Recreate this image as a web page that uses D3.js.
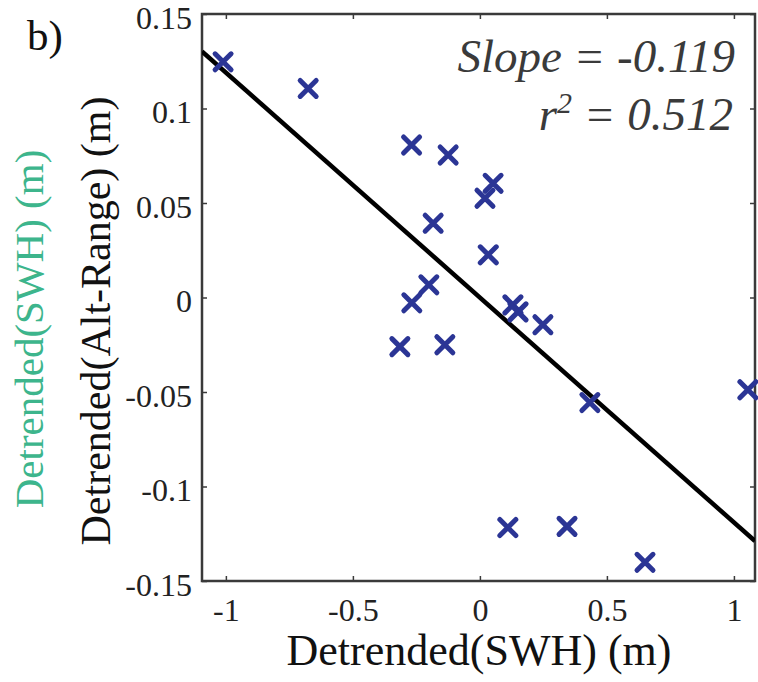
<!DOCTYPE html>
<html lang="en">
<head>
  <meta charset="UTF-8">
  <title>Detrended Alt-Range vs SWH</title>
  <script src="https://d3js.org/d3.v7.min.js"></script>
  <style>
    body { margin: 0; background: #fff; }
    svg { display: block; font-family: "Liberation Serif", "Times New Roman", serif; }
  </style>
</head>
<body>
  <svg id="chart" width="758" height="682"></svg>
  <script>
    // Points (detrended SWH, detrended Alt-Range), metres
    const swh = [-1.011, -0.676, -0.269, -0.125, 0.052, 0.020, -0.184, 0.033, -0.201, -0.268,
                 -0.315, -0.138, 0.130, 0.150, 0.248, 0.433, 1.055, 0.110, 0.343, 0.650];
    const altRange = [0.1247, 0.1106, 0.0807, 0.0754, 0.0604, 0.0525, 0.0393, 0.0226, 0.0067, -0.0028,
                      -0.026, -0.025, -0.0039, -0.0076, -0.0144, -0.0556, -0.0488, -0.1217, -0.1211, -0.1401];

    // Fit shown on the plot
    const slope = -0.119;
    const intercept = 0.0;
    const r2 = 0.512;

    const xTicks = [-1, -0.5, 0, 0.5, 1];
    const yTicks = [-0.15, -0.1, -0.05, 0, 0.05, 0.1, 0.15];
    const xDomain = [-1.094, 1.083];
    const yDomain = [-0.15, 0.15];

    const plot = { left: 202, right: 755, top: 14, bottom: 581 };
    const svg = d3.select("#chart");

    const x = d3.scaleLinear().domain(xDomain).range([plot.left, plot.right]);
    const y = d3.scaleLinear().domain(yDomain).range([plot.bottom, plot.top]);

    const axisColor = "#3a3a3a";
    const tickFont = 32;

    // clip for the fitted line
    svg.append("clipPath").attr("id", "plotClip")
      .append("rect")
      .attr("x", plot.left).attr("y", plot.top)
      .attr("width", plot.right - plot.left).attr("height", plot.bottom - plot.top);

    // ---- axes (ticks pointing inwards) ----
    function styleAxis(g) {
      g.select(".domain").remove();
      g.selectAll(".tick line").attr("stroke", axisColor).attr("stroke-width", 1.5);
      g.selectAll(".tick text")
        .attr("fill", "#222")
        .attr("font-size", tickFont)
        .attr("font-family", "'Liberation Serif', 'Times New Roman', serif");
    }

    svg.append("g")
      .attr("transform", `translate(0,${plot.bottom})`)
      .call(d3.axisBottom(x).tickValues(xTicks).tickSize(-5).tickPadding(17)
        .tickFormat(d => String(d)))
      .call(styleAxis);

    svg.append("g")
      .attr("transform", `translate(${plot.left},0)`)
      .call(d3.axisLeft(y).tickValues(yTicks).tickSize(-5).tickPadding(10)
        .tickFormat(d => String(+d.toFixed(2))))
      .call(styleAxis)
      .selectAll(".tick text").attr("dy", "0.45em");

    svg.append("g")
      .attr("transform", `translate(0,${plot.top})`)
      .call(d3.axisTop(x).tickValues(xTicks).tickSize(-5).tickFormat(""))
      .call(styleAxis);

    svg.append("g")
      .attr("transform", `translate(${plot.right},0)`)
      .call(d3.axisRight(y).tickValues(yTicks).tickSize(-5).tickFormat(""))
      .call(styleAxis);

    // box
    svg.append("rect")
      .attr("x", plot.left).attr("y", plot.top)
      .attr("width", plot.right - plot.left).attr("height", plot.bottom - plot.top)
      .attr("fill", "none")
      .attr("stroke", axisColor)
      .attr("stroke-width", 2.5);

    // ---- fitted line ----
    const fitLine = d3.line().x(d => x(d)).y(d => y(slope * d + intercept));
    svg.append("path")
      .datum(xDomain)
      .attr("clip-path", "url(#plotClip)")
      .attr("fill", "none")
      .attr("stroke", "#000")
      .attr("stroke-width", 4.5)
      .attr("d", fitLine);

    // ---- x markers ----
    const s = 8;
    svg.selectAll(".pt")
      .data(swh.map((v, i) => [v, altRange[i]]))
      .enter()
      .append("path")
      .attr("class", "pt")
      .attr("transform", d => `translate(${x(d[0])},${y(d[1])})`)
      .attr("d", `M${-s},${-s}L${s},${s}M${-s},${s}L${s},${-s}`)
      .attr("stroke", "#2b3595")
      .attr("stroke-width", 5)
      .attr("stroke-linecap", "round")
      .attr("fill", "none");

    // ---- annotations ----
    svg.append("text")
      .attr("x", 735).attr("y", 72)
      .attr("text-anchor", "end")
      .attr("font-size", 47)
      .attr("font-style", "italic")
      .attr("fill", "#3a3a3a")
      .text("Slope = " + slope);

    const r2Text = svg.append("text")
      .attr("x", 733).attr("y", 130)
      .attr("text-anchor", "end")
      .attr("font-size", 47)
      .attr("font-style", "italic")
      .attr("fill", "#3a3a3a");
    r2Text.append("tspan").text("r");
    r2Text.append("tspan").attr("font-size", 30).attr("dy", -17).text("2");
    r2Text.append("tspan").attr("dy", 17).text(" = " + r2.toFixed(3));

    // panel label
    svg.append("text")
      .attr("x", 27).attr("y", 50)
      .attr("font-size", 43)
      .attr("fill", "#111")
      .text("b)");

    // axis titles
    svg.append("text")
      .attr("x", 479).attr("y", 665)
      .attr("text-anchor", "middle")
      .attr("font-size", 44)
      .attr("fill", "#111")
      .text("Detrended(SWH) (m)");

    svg.append("text")
      .attr("transform", "translate(110,321) rotate(-90)")
      .attr("text-anchor", "middle")
      .attr("font-size", 42)
      .attr("fill", "#111")
      .text("Detrended(Alt-Range) (m)");

    svg.append("text")
      .attr("transform", "translate(43,329) rotate(-90)")
      .attr("text-anchor", "middle")
      .attr("font-size", 41)
      .attr("fill", "#3db58c")
      .text("Detrended(SWH) (m)");
  </script>
</body>
</html>
